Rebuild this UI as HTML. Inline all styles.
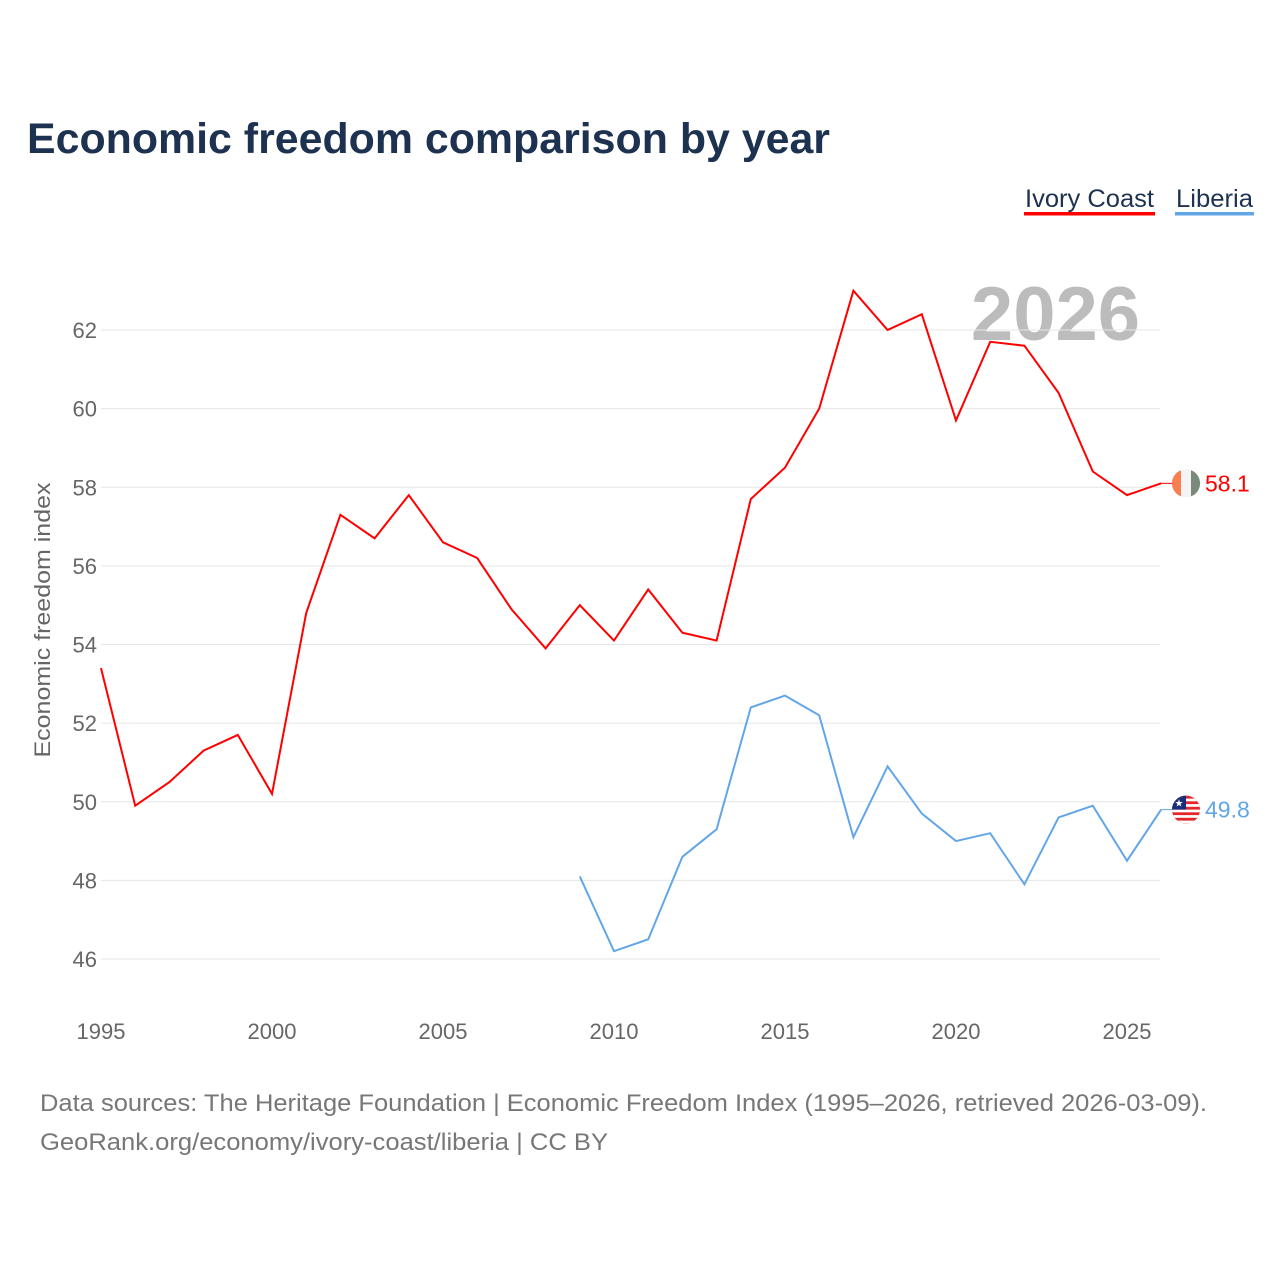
<!DOCTYPE html>
<html><head><meta charset="utf-8">
<style>
html,body{margin:0;padding:0;background:#fff;width:1280px;height:1280px;overflow:hidden;font-family:"Liberation Sans",sans-serif;}
</style></head>
<body>
<svg id="chart" width="1280" height="1280" xmlns="http://www.w3.org/2000/svg" font-family="Liberation Sans, sans-serif">
<text x="27" y="153" font-size="43" font-weight="bold" fill="#1d3250" textLength="803" lengthAdjust="spacingAndGlyphs">Economic freedom comparison by year</text>
<g>
<text x="1025" y="207" font-size="25" fill="#1d3250" textLength="129" lengthAdjust="spacingAndGlyphs">Ivory Coast</text>
<rect x="1024" y="212" width="131" height="3.5" fill="#f00"/>
<text x="1176" y="207" font-size="25" fill="#1d3250" textLength="77" lengthAdjust="spacingAndGlyphs">Liberia</text>
<rect x="1175" y="212" width="79" height="3.5" fill="#62a6e8"/>
</g>
<text x="1140" y="340" font-size="76" font-weight="bold" fill="#bcbcbc" text-anchor="end">2026</text>
<text transform="translate(50,620) rotate(-90)" font-size="22" fill="#666" text-anchor="middle" textLength="275" lengthAdjust="spacingAndGlyphs">Economic freedom index</text>
<g id="grid"></g><g id="yticks"></g><g id="xticks"></g><g id="lines"></g>
<text x="40" y="1111" font-size="24" fill="#777" textLength="1167" lengthAdjust="spacingAndGlyphs">Data sources: The Heritage Foundation | Economic Freedom Index (1995–2026, retrieved 2026-03-09).</text>
<text x="40" y="1150" font-size="24" fill="#777" textLength="568" lengthAdjust="spacingAndGlyphs">GeoRank.org/economy/ivory-coast/liberia | CC BY</text>
</svg>
<script>
const yTicks=[46,48,50,52,54,56,58,60,62];
const xTicks=[1995,2000,2005,2010,2015,2020,2025];
const ivoryYears=[1995,1996,1997,1998,1999,2000,2001,2002,2003,2004,2005,2006,2007,2008,2009,2010,2011,2012,2013,2014,2015,2016,2017,2018,2019,2020,2021,2022,2023,2024,2025,2026];
const ivoryValues=[53.4,49.9,50.5,51.3,51.7,50.2,54.8,57.3,56.7,57.8,56.6,56.2,54.9,53.9,55.0,54.1,55.4,54.3,54.1,57.7,58.5,60.0,63.0,62.0,62.4,59.7,61.7,61.6,60.4,58.4,57.8,58.1];
const liberiaYears=[2009,2010,2011,2012,2013,2014,2015,2016,2017,2018,2019,2020,2021,2022,2023,2024,2025,2026];
const liberiaValues=[48.1,46.2,46.5,48.6,49.3,52.4,52.7,52.2,49.1,50.9,49.7,49.0,49.2,47.9,49.6,49.9,48.5,49.8];
const NS="http://www.w3.org/2000/svg";
function X(yr){return 101+(yr-1995)*(1127-101)/30;}
function Y(v){return 330+(62-v)*(959-330)/16;}
function mk(tag,attrs,parent){const e=document.createElementNS(NS,tag);for(const k in attrs)e.setAttribute(k,attrs[k]);parent.appendChild(e);return e;}
const grid=document.getElementById('grid'),yt=document.getElementById('yticks'),xt=document.getElementById('xticks'),lines=document.getElementById('lines');
yTicks.forEach(v=>{
 const l=mk('line',{x1:101,x2:1160,y1:Y(v),y2:Y(v),stroke:'#e6e6e6','stroke-width':1},grid);
 
 
 const t=mk('text',{x:97,y:Y(v)+8,'font-size':22,fill:'#666','text-anchor':'end'},yt);
 t.textContent=v;
 
 
});
xTicks.forEach(yr=>{
 const t=mk('text',{x:X(yr),y:1039,'font-size':22,fill:'#666','text-anchor':'middle'},xt);
 t.textContent=yr;
 
 
});
function series(years,vals,color,name){
 const p=mk('polyline',{points:years.map((y,i)=>X(y)+','+Y(vals[i])).join(' '),fill:'none',stroke:color,'stroke-width':2},lines);
 
 
 const ly=years[years.length-1],lv=vals[vals.length-1];
 mk('line',{x1:X(ly),x2:1172,y1:Y(lv),y2:Y(lv),stroke:color,'stroke-width':1},lines);
 const t=mk('text',{x:1205,y:Y(lv)+8,'font-size':23,fill:color},lines);
 t.textContent=lv.toFixed(1);
 
 
}
series(ivoryYears,ivoryValues,'#f00','ivory-coast');
series(liberiaYears,liberiaValues,'#62a6e8','liberia');
// flags
const iy=Y(ivoryValues[ivoryValues.length-1]);
const f1=mk('circle',{cx:1186,cy:iy,r:14,fill:'#f4f4f4'},lines);


mk('path',{d:`M1191 ${iy-13.1} A14 14 0 0 1 1191 ${iy+13.1} Z`,fill:'#7a8a7a'},lines);
mk('path',{d:`M1181 ${iy-13.1} A14 14 0 0 0 1181 ${iy+13.1} Z`,fill:'#f77f52'},lines);
const ly2=Y(liberiaValues[liberiaValues.length-1]);
const f2=mk('circle',{cx:1186,cy:ly2,r:14,fill:'#e4262b'},lines);


mk('clipPath',{id:'lc'},lines).appendChild(Object.assign(document.createElementNS(NS,'circle'),{}));
const cc=document.querySelector('#lc circle');cc.setAttribute('cx',1186);cc.setAttribute('cy',ly2);cc.setAttribute('r',14);
const g=mk('g',{'clip-path':'url(#lc)'},lines);
for(let i=0;i<5;i++)mk('rect',{x:1172,y:ly2-11+i*5.5,width:28,height:2.7,fill:'#fff'},g);
mk('rect',{x:1172,y:ly2-14,width:14,height:14,fill:'#1a2f7a'},g);
const st=mk('text',{x:1179,y:ly2-3,'font-size':10,fill:'#fff','text-anchor':'middle'},lines);st.textContent='★';
</script>
</body></html>
